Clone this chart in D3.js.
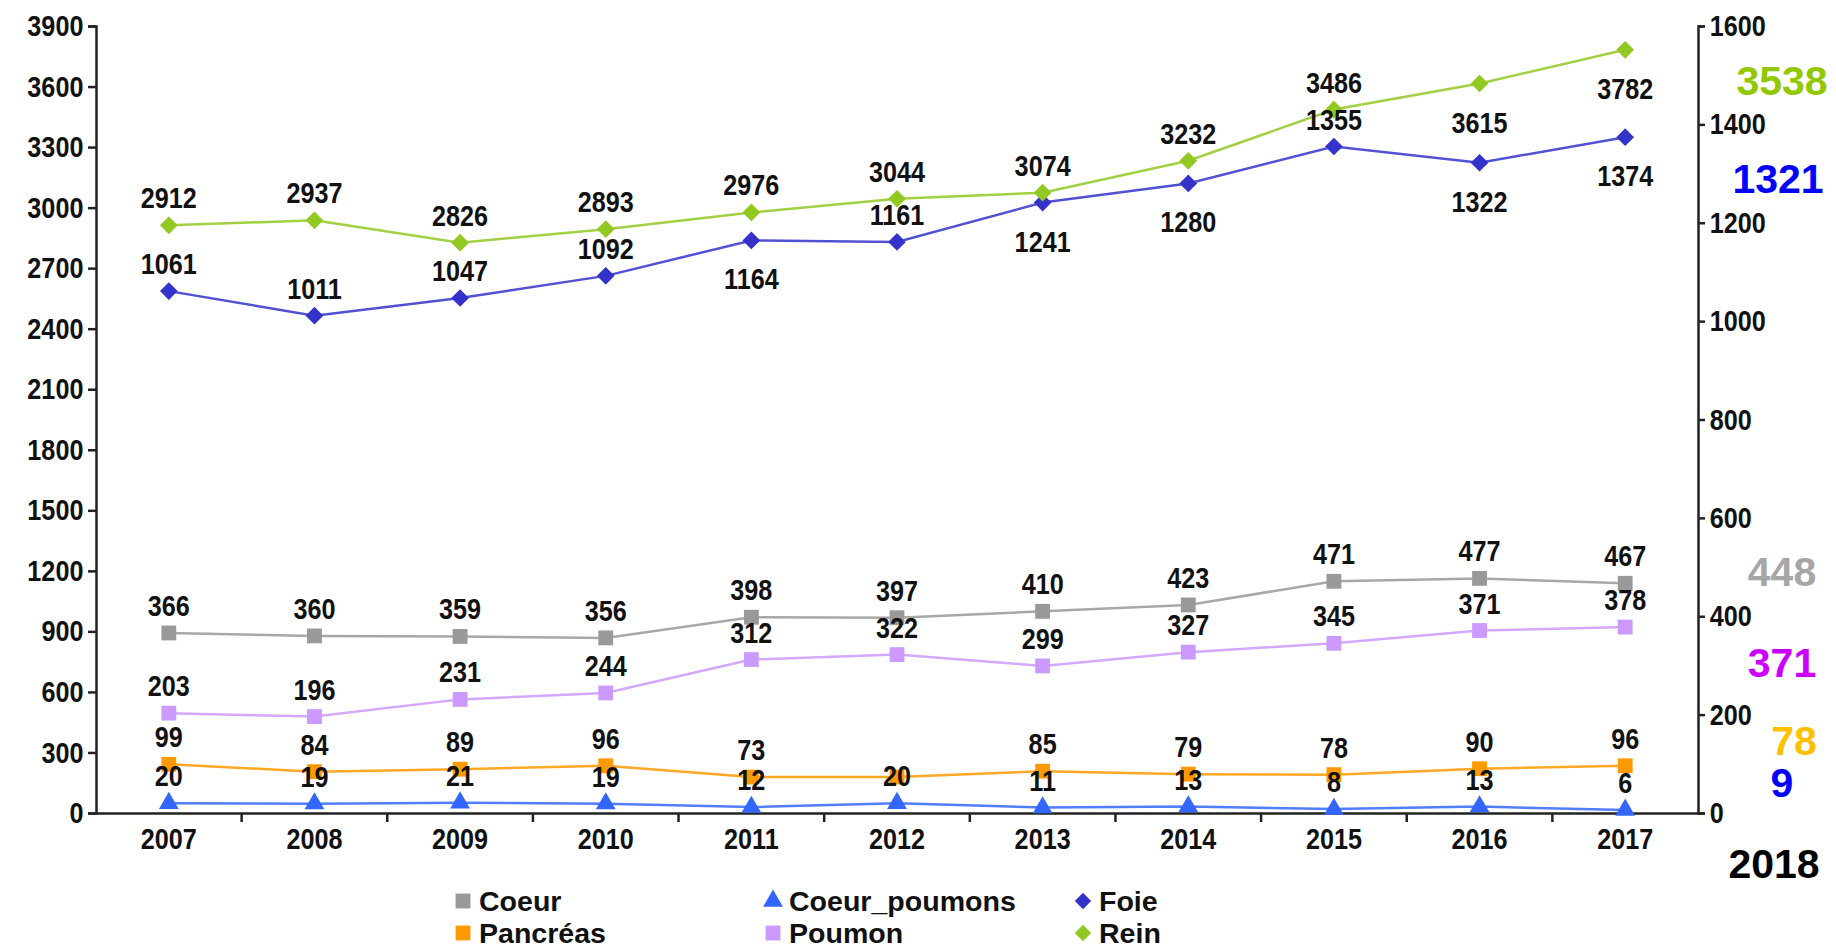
<!DOCTYPE html>
<html>
<head>
<meta charset="utf-8">
<script src="https://cdn.jsdelivr.net/npm/d3@7"></script>
<style>
  body { margin: 0; background: #fff; }
  svg text { font-family: "Liberation Sans", Arial, sans-serif; font-weight: bold; }
</style>
</head>
<body>
<div id="chart"></div>
<script>
// data
const years = ["2007", "2008", "2009", "2010", "2011", "2012", "2013", "2014", "2015", "2016", "2017"]
const rein = [2912, 2937, 2826, 2893, 2976, 3044, 3074, 3232, 3486, 3615, 3782]
const foie = [1061, 1011, 1047, 1092, 1164, 1161, 1241, 1280, 1355, 1322, 1374]
const coeur = [366, 360, 359, 356, 398, 397, 410, 423, 471, 477, 467]
const poumon = [203, 196, 231, 244, 312, 322, 299, 327, 345, 371, 378]
const pancreas = [99, 84, 89, 96, 73, 73, 85, 79, 78, 90, 96]
const coeurPoumons = [20, 19, 21, 19, 12, 20, 11, 13, 8, 13, 6]
const leftTicks = d3.range(0, 3901, 300)
const rightTicks = d3.range(0, 1601, 200)
const extraLabels = ["3538", "1321", "448", "371", "78", "9", "2018"]

const W = 1836, H = 952
const plotLeft = 96, plotRight = 1698, plotTop = 26, plotBottom = 813
const FS = 30, SQUEEZE = 0.84   // the chart font is a narrow bold sans

const svg = d3.select("#chart").append("svg")
    .attr("width", W).attr("height", H)

const x = d3.scaleBand().domain(years).range([plotLeft, plotRight]).padding(0)
const yL = d3.scaleLinear().domain([0, 3900]).range([plotBottom, plotTop])
const yR = d3.scaleLinear().domain([0, 1600]).range([plotBottom, plotTop])
const cx = (d) => x(d) + x.bandwidth() / 2

// series, drawn back to front; "below" = years whose label sits under the point
const series = [
    { name: "Coeur_poumons", vals: coeurPoumons, y: yR, color: "#3366ff", shape: d3.symbolTriangle, below: [] },
    { name: "Pancréas", vals: pancreas, y: yR, color: "#ff9900", shape: d3.symbolSquare, below: [], hide: ["2012"] },
    { name: "Poumon", vals: poumon, y: yR, color: "#cc99ff", shape: d3.symbolSquare, below: [] },
    { name: "Coeur", vals: coeur, y: yR, color: "#999999", shape: d3.symbolSquare, below: [] },
    { name: "Foie", vals: foie, y: yR, color: "#3333cc", shape: d3.symbolDiamond2, below: ["2011", "2013", "2014", "2016", "2017"] },
    { name: "Rein", vals: rein, y: yL, color: "#92c822", shape: d3.symbolDiamond2, below: ["2016", "2017"] }
]

// axes
const gL = svg.append("g").attr("transform", `translate(${plotLeft},0)`)
    .call(d3.axisLeft(yL).tickValues(leftTicks).tickFormat(d3.format("d")).tickSize(8).tickPadding(7))
const gR = svg.append("g").attr("transform", `translate(${plotRight},0)`)
    .call(d3.axisRight(yR).tickValues(rightTicks).tickFormat(d3.format("d")).tickSize(7).tickPadding(7))
const gX = svg.append("g").attr("transform", `translate(0,${plotBottom})`)
    .call(d3.axisBottom(x).tickSize(0).tickPadding(15))
for (const g of [gL, gR, gX]) {
    g.selectAll("text").attr("font-size", FS).attr("fill", "#111")
        .attr("font-family", "'Liberation Sans', Arial, sans-serif").attr("font-weight", "bold")
        .attr("transform", `scale(${SQUEEZE},1)`)
    g.selectAll("path, line").attr("stroke", "#222").attr("stroke-width", 2.5)
}
// year ticks sit between the categories
gX.selectAll(".boundary").data(years.slice(1)).enter().append("line")
    .attr("x1", (d) => x(d)).attr("x2", (d) => x(d))
    .attr("y1", 0).attr("y2", 9)
    .attr("stroke", "#222").attr("stroke-width", 2.5)

// lines + markers
for (const s of series) {
    const line = d3.line().x((d, i) => cx(years[i])).y((d) => s.y(d))
    svg.append("path").datum(s.vals)
        .attr("d", line).attr("fill", "none")
        .attr("stroke", s.color).attr("stroke-width", 2.5).attr("opacity", 0.85)
    const size = s.shape === d3.symbolDiamond2 ? 200 : (s.shape === d3.symbolTriangle ? 170 : 220)
    svg.append("g").selectAll("path").data(s.vals).enter().append("path")
        .attr("transform", (d, i) => `translate(${cx(years[i])},${s.y(d)})`)
        .attr("d", d3.symbol().type(s.shape).size(size))
        .attr("fill", s.color)
}

// value labels
for (const s of series) {
    const pts = s.vals.map((v, i) => ({ year: years[i], v }))
        .filter((p) => !(s.hide || []).includes(p.year))
    svg.append("g").selectAll("text").data(pts).enter().append("text")
        .attr("transform", (p) => `translate(${cx(p.year)},${s.y(p.v) + (s.below.includes(p.year) ? 49 : -17)}) scale(${SQUEEZE},1)`)
        .attr("text-anchor", "middle")
        .attr("font-size", FS).attr("fill", "#111")
        .text((p) => p.v)
}

// 2018 side notes
const noteX = [1782, 1778, 1782, 1782, 1794, 1782, 1774]
const noteY = [95, 193, 586, 677, 755, 797, 878]
const noteColor = ["#92c800", "#0000ff", "#a6a6a6", "#cc00ff", "#ffc000", "#0000ff", "#000000"]
svg.append("g").selectAll("text").data(extraLabels).enter().append("text")
    .attr("x", (d, i) => noteX[i]).attr("y", (d, i) => noteY[i])
    .attr("text-anchor", "middle")
    .attr("font-family", "Lato, 'Open Sans', sans-serif")
    .attr("font-size", 41).attr("fill", (d, i) => noteColor[i])
    .text((d) => d)

// legend
const legendOrder = ["Coeur", "Coeur_poumons", "Foie", "Pancréas", "Poumon", "Rein"]
const legCol = [463, 773, 1083], legRow = [901, 933]
const leg = svg.append("g").selectAll("g").data(legendOrder).enter().append("g")
    .attr("transform", (d, i) => `translate(${legCol[i % 3]},${legRow[Math.floor(i / 3)]})`)
leg.append("path")
    .attr("d", (d) => {
        const s = series.find((e) => e.name === d)
        return d3.symbol().type(s.shape).size(s.shape === d3.symbolSquare ? 220 : 170)()
    })
    .attr("fill", (d) => series.find((e) => e.name === d).color)
leg.append("text")
    .attr("transform", "translate(16,10) scale(1.02,1)")
    .attr("font-size", 28).attr("fill", "#111")
    .text((d) => d)
</script>
</body>
</html>
